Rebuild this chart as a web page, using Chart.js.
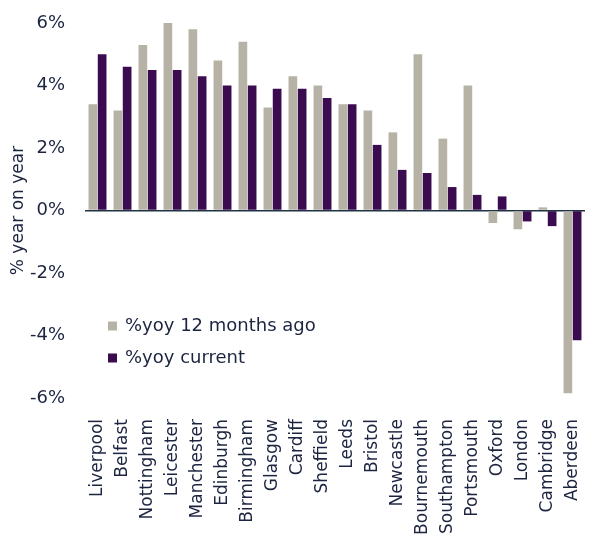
<!DOCTYPE html>
<html>
<head>
<meta charset="utf-8">
<script src="https://cdn.jsdelivr.net/npm/chart.js@4"></script>
<style>
  html, body { margin: 0; padding: 0; background: #fff; }
  #wrap { width: 600px; height: 542px; }
</style>
</head>
<body>
<div id="wrap"><canvas id="chart"></canvas></div>
<script>
var cities = ['Liverpool', 'Belfast', 'Nottingham', 'Leicester', 'Manchester', 'Edinburgh',
    'Birmingham', 'Glasgow', 'Cardiff', 'Sheffield', 'Leeds', 'Bristol', 'Newcastle',
    'Bournemouth', 'Southampton', 'Portsmouth', 'Oxford', 'London', 'Cambridge', 'Aberdeen'];
var yoyYearAgo = [3.4, 3.2, 5.3, 6.0, 5.8, 4.8, 5.4, 3.3, 4.3, 4.0, 3.4, 3.2, 2.5,
    5.0, 2.3, 4.0, -0.4, -0.6, 0.1, -5.85];
var yoyCurrent = [5.0, 4.6, 4.5, 4.5, 4.3, 4.0, 4.0, 3.9, 3.9, 3.6, 3.4, 2.1, 1.3,
    1.2, 0.75, 0.5, 0.45, -0.35, -0.5, -4.15];
var yTicks = [-6, -4, -2, 0, 2, 4, 6];

var textColor = '#1c2440';
var fontFamily = "'DejaVu Sans', Verdana, sans-serif";

// legend drawn inside the plot, lower left
var innerLegend = {
    id: 'innerLegend',
    afterDraw: function (chart) {
        var c = chart.ctx;
        var x = chart.chartArea.left + 23;
        var y = chart.chartArea.top + 303;
        c.save();
        c.font = '18px ' + fontFamily;
        c.textBaseline = 'middle';
        chart.data.datasets.forEach(function (ds, i) {
            var yy = y + i * 32;
            c.fillStyle = ds.backgroundColor;
            c.fillRect(x, yy - 4.5, 9, 9);
            c.fillStyle = textColor;
            c.fillText(ds.label, x + 17, yy);
        });
        c.restore();
    }
};

var ctx = document.getElementById('chart').getContext('2d');
var chart = new Chart(ctx, {
    type: 'bar',
    data: {
        labels: cities,
        datasets: [{
            label: '%yoy 12 months ago',
            data: yoyYearAgo,
            backgroundColor: '#b6b3a6'
        }, {
            label: '%yoy current',
            data: yoyCurrent,
            backgroundColor: '#3b0b50'
        }]
    },
    options: {
        responsive: true,
        maintainAspectRatio: false,
        animation: false,
        layout: { padding: { top: 23, right: 15, left: 0, bottom: 0 } },
        plugins: {
            legend: { display: false },
            tooltip: { enabled: false }
        },
        datasets: {
            bar: { categoryPercentage: 0.74, barPercentage: 0.94 }
        },
        scales: {
            x: {
                grid: { display: false },
                border: { display: false },
                ticks: {
                    color: textColor,
                    font: { family: fontFamily, size: 17 },
                    minRotation: 90,
                    maxRotation: 90,
                    autoSkip: false,
                    padding: 13
                },
                afterFit: function (scale) {
                    scale.height = 144;
                    scale.paddingLeft = 0;
                    scale.paddingRight = 0;
                }
            },
            y: {
                min: -6,
                max: 6,
                afterBuildTicks: function (scale) {
                    scale.ticks = yTicks.map(function (v) { return { value: v }; });
                },
                grid: {
                    drawTicks: false,
                    lineWidth: function (c) { return c.tick && c.tick.value === 0 ? 1.5 : 0; },
                    color: '#1f3345'
                },
                border: { display: false },
                ticks: {
                    color: textColor,
                    font: { family: fontFamily, size: 18 },
                    padding: 20,
                    callback: function (v) { return v + '%'; }
                },
                title: {
                    display: true,
                    text: '% year on year',
                    color: textColor,
                    font: { family: fontFamily, size: 17 },
                    padding: { top: 8, bottom: 0 }
                },
                afterFit: function (scale) {
                    scale.width = 85;
                    scale.paddingTop = 0;
                    scale.paddingBottom = 0;
                }
            }
        }
    },
    plugins: [innerLegend]
});
</script>
</body>
</html>
